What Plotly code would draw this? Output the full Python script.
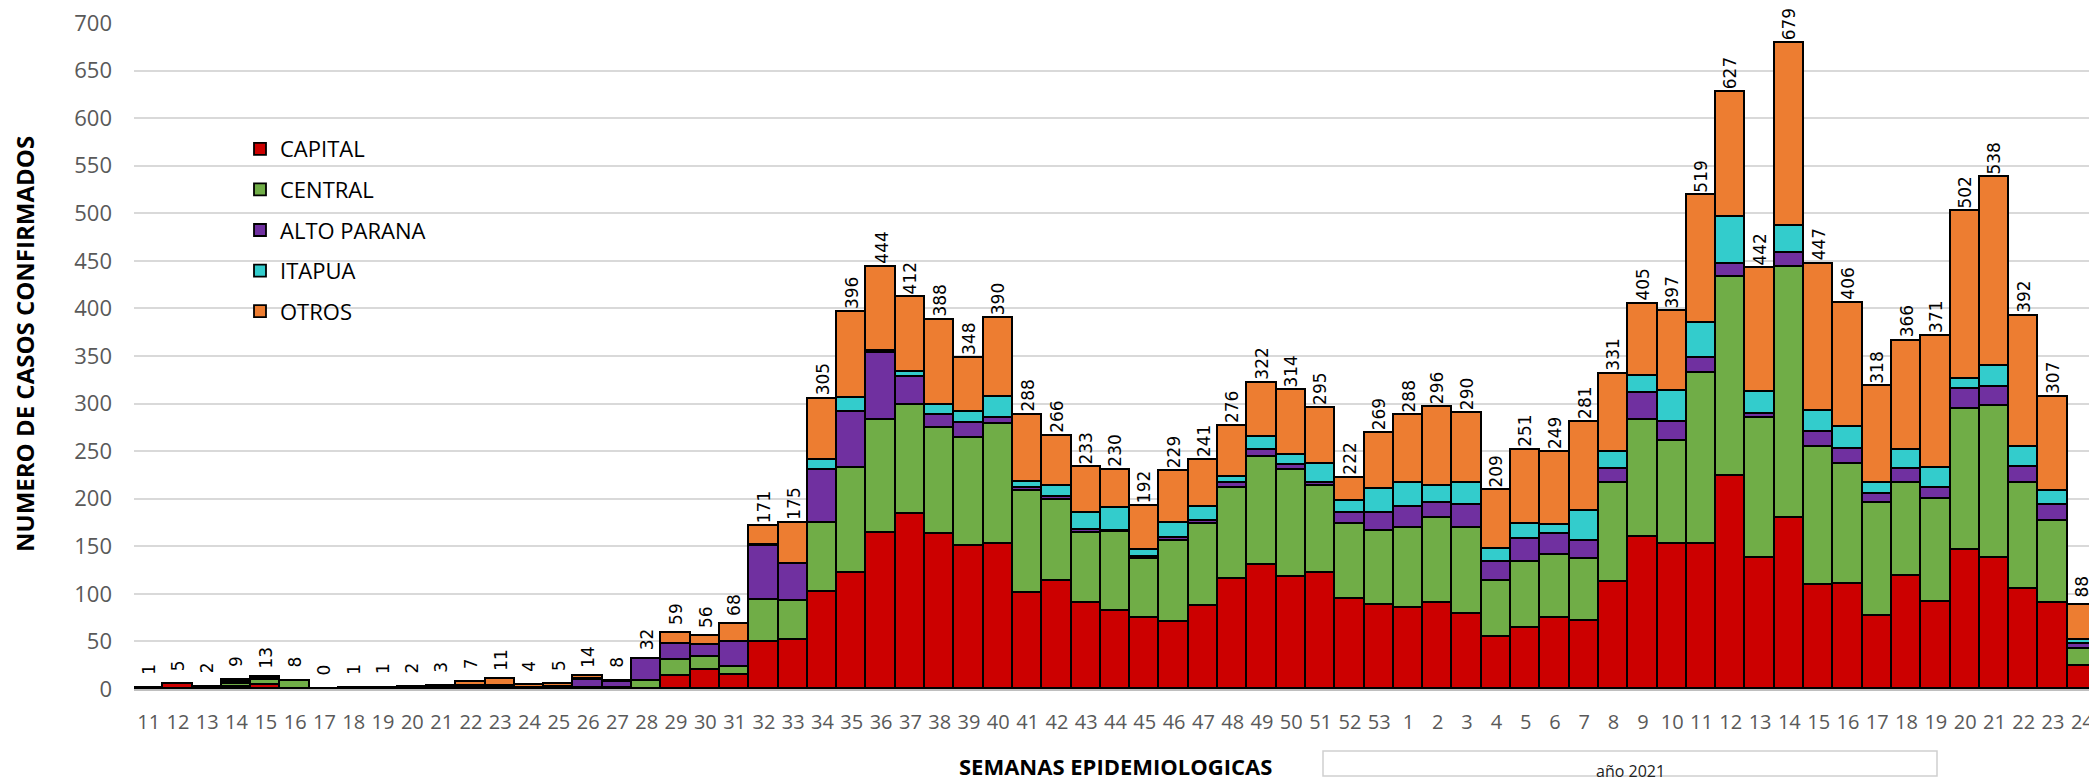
import plotly.graph_objects as go

# Epidemiological weeks (2020: 11..53, 2021: 1..24)
WEEK_LABELS = ["11", "12", "13", "14", "15", "16", "17", "18", "19", "20",
               "21", "22", "23", "24", "25", "26", "27", "28", "29", "30",
               "31", "32", "33", "34", "35", "36", "37", "38", "39", "40",
               "41", "42", "43", "44", "45", "46", "47", "48", "49", "50",
               "51", "52", "53",
               "1", "2", "3", "4", "5", "6", "7", "8", "9", "10",
               "11", "12", "13", "14", "15", "16", "17", "18", "19", "20",
               "21", "22", "23", "24"]

CAPITAL = [1, 5, 2, 2, 4, 0, 0, 1, 1, 1,
           2, 2, 1, 1, 2, 1, 1, 0, 14, 20,
           15, 49, 52, 102, 122, 164, 184, 163, 150, 152,
           101, 114, 90, 82, 75, 70, 87, 116, 130, 118,
           122, 95, 88,
           85, 90, 79, 55, 64, 75, 71, 112, 160, 152,
           152, 224, 138, 180, 109, 110, 77, 119, 91, 146,
           138, 105, 90, 24]

CENTRAL = [0, 0, 0, 3, 5, 8, 0, 0, 0, 1,
           1, 1, 0, 0, 0, 0, 0, 8, 17, 14,
           8, 45, 40, 73, 110, 119, 114, 111, 114, 127,
           107, 85, 74, 83, 62, 86, 86, 95, 114, 112,
           91, 78, 78,
           84, 90, 90, 59, 70, 66, 66, 105, 123, 109,
           180, 209, 147, 264, 145, 126, 118, 98, 109, 148,
           159, 112, 87, 18]

ALTO_PARANA = [0, 0, 0, 1, 2, 0, 0, 0, 0, 0,
               0, 0, 2, 0, 0, 8, 6, 24, 16, 12,
               26, 56, 39, 55, 59, 70, 30, 14, 16, 6,
               3, 3, 3, 1, 2, 3, 4, 5, 7, 5,
               4, 12, 19,
               22, 15, 24, 20, 24, 22, 19, 14, 28, 20,
               16, 14, 4, 14, 16, 16, 10, 14, 11, 21,
               20, 16, 16, 5]

ITAPUA = [0, 0, 0, 1, 1, 0, 0, 0, 0, 0,
          0, 0, 0, 0, 0, 1, 0, 0, 0, 0,
          0, 1, 0, 11, 15, 2, 5, 11, 11, 22,
          7, 11, 18, 24, 7, 15, 14, 7, 14, 11,
          20, 13, 25,
          26, 18, 24, 13, 15, 9, 31, 18, 18, 32,
          37, 49, 23, 29, 22, 23, 11, 20, 21, 11,
          22, 21, 15, 5]

OTROS = [0, 0, 0, 2, 1, 0, 0, 0, 0, 0,
         0, 4, 8, 3, 3, 4, 1, 0, 12, 10,
         19, 20, 44, 64, 90, 89, 79, 89, 57, 83,
         70, 53, 48, 40, 46, 55, 50, 53, 57, 68,
         58, 24, 59,
         71, 83, 73, 62, 78, 77, 94, 82, 76, 84,
         134, 131, 130, 192, 155, 131, 102, 115, 139, 176,
         199, 138, 99, 36]

TOTALS = [1, 5, 2, 9, 13, 8, 0, 1, 1, 2,
          3, 7, 11, 4, 5, 14, 8, 32, 59, 56,
          68, 171, 175, 305, 396, 444, 412, 388, 348, 390,
          288, 266, 233, 230, 192, 229, 241, 276, 322, 314,
          295, 222, 269,
          288, 296, 290, 209, 251, 249, 281, 331, 405, 397,
          519, 627, 442, 679, 447, 406, 318, 366, 371, 502,
          538, 392, 307, 88]

SERIES = [
    ("CAPITAL", CAPITAL, "#CC0000"),
    ("CENTRAL", CENTRAL, "#70AD47"),
    ("ALTO PARANA", ALTO_PARANA, "#7030A0"),
    ("ITAPUA", ITAPUA, "#33CCCC"),
    ("OTROS", OTROS, "#ED7D31"),
]

X = list(range(len(WEEK_LABELS)))

fig = go.Figure()
for name, vals, color in SERIES:
    fig.add_trace(go.Bar(
        x=X, y=vals, name=name, legendgroup=name,
        marker=dict(color=color, line=dict(color="black", width=1.8)),
    ))

# page has an 8px body margin: figure sits at (8, 8); extend to window edges
OFF = 8
W, H = 2097 - OFF, 784 - OFF
L, R, T, B = 134 - OFF, 0, 23 - OFF, 784 - 689
pw = W - L - R
ph = H - T - B


def px_x(p):  # page pixel -> paper x
    return (p - OFF - L) / pw


def px_y(p):  # page pixel -> paper y
    return (H - B - (p - OFF)) / ph


annotations = []
for i, t in enumerate(TOTALS):
    annotations.append(dict(
        x=X[i], y=t, xref="x", yref="y", text=str(t), textangle=-90,
        xanchor="center", yanchor="middle", showarrow=False, yshift=19,
        borderpad=0,
        font=dict(family="DejaVu Sans", size=17, color="black"),
    ))

annotations.append(dict(
    x=px_x(24), y=px_y(344), xref="paper", yref="paper",
    text="<b>NUMERO DE CASOS CONFIRMADOS</b>", textangle=-90,
    xanchor="center", yanchor="middle", showarrow=False,
    font=dict(family="Open Sans", size=24, color="black"),
))
annotations.append(dict(
    x=px_x(1115), y=px_y(766), xref="paper", yref="paper",
    text="<b>SEMANAS EPIDEMIOLOGICAS</b>",
    xanchor="center", yanchor="middle", showarrow=False, borderpad=0,
    font=dict(family="Open Sans", size=22, color="black"),
))
annotations.append(dict(
    x=px_x(1630), y=px_y(771), xref="paper", yref="paper",
    text="año 2021",
    xanchor="center", yanchor="middle", showarrow=False,
    font=dict(family="Open Sans", size=16, color="#222222"),
))

shapes = [dict(
    type="rect", xref="paper", yref="paper",
    x0=px_x(1323), x1=px_x(1937), y0=px_y(751), y1=px_y(776),
    line=dict(color="#D0D0D0", width=1.5), fillcolor="rgba(0,0,0,0)",
    layer="below",
)]

fig.update_layout(
    width=W, height=H, autosize=False,
    margin=dict(l=L, r=R, t=T, b=B, pad=0),
    barmode="stack", bargap=0,
    plot_bgcolor="white", paper_bgcolor="white",
    font=dict(family="Open Sans", color="#595959"),
    legend=dict(
        x=px_x(240), y=px_y(128), xanchor="left", yanchor="top",
        traceorder="grouped", tracegroupgap=9,
        font=dict(family="Open Sans", size=22, color="black"),
        bgcolor="rgba(0,0,0,0)", itemwidth=30,
    ),
    annotations=annotations,
    shapes=shapes,
    xaxis=dict(
        tickmode="array", tickvals=X, ticktext=WEEK_LABELS,
        range=[-0.5, len(X) - 0.5], showgrid=False,
        showline=True, linecolor="#BFBFBF", linewidth=2,
        ticks="", ticklabelstandoff=14, ticklabeloverflow="allow",
        tickfont=dict(family="Open Sans", size=20, color="#595959"),
        zeroline=False,
    ),
    yaxis=dict(
        range=[0, 700], tickmode="array",
        tickvals=[0, 50, 100, 150, 200, 250, 300, 350, 400, 450, 500, 550, 600, 650, 700],
        showgrid=True, gridcolor="#D9D9D9", gridwidth=2,
        zeroline=False, showline=False, ticks="",
        ticklabelstandoff=21, ticklabeloverflow="allow",
        tickfont=dict(family="Open Sans", size=22, color="#595959"),
    ),
)

fig.write_html("out.html")
